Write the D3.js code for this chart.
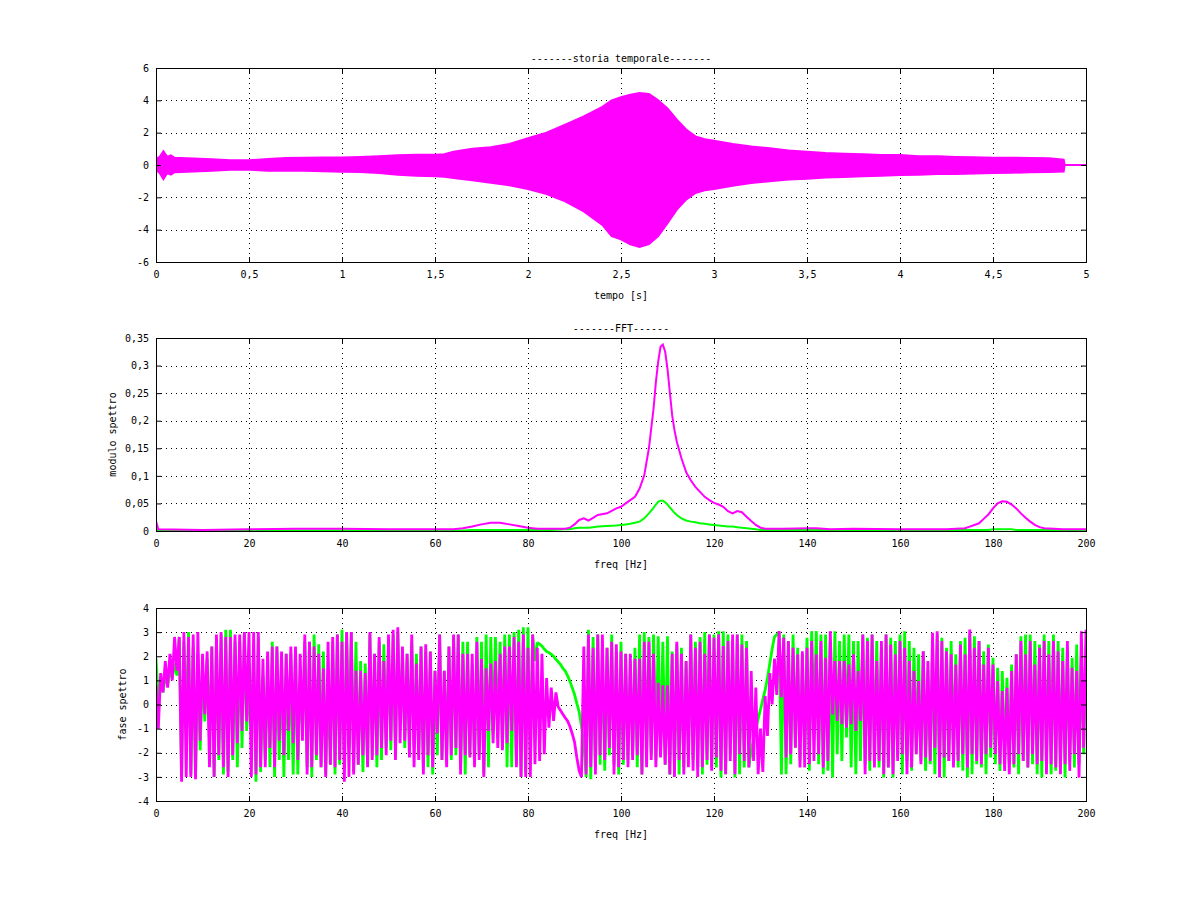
<!DOCTYPE html>
<html>
<head>
<meta charset="utf-8">
<script src="https://cdn.jsdelivr.net/npm/d3@7"></script>
<style>
body { margin: 0; background: #fff; }
svg { display: block; }
text { font-family: "DejaVu Sans Mono", "Liberation Mono", monospace; font-size: 10px; fill: #000; }
</style>
</head>
<body>
<svg></svg>
<script>
// storia temporale: envelope of the signal (upper / lower peaks)
const sigT = [0, 0.02, 0.04, 0.06, 0.08,
    0.1, 0.2, 0.3, 0.4, 0.5, 0.6, 0.7, 0.8, 0.9, 1.0, 1.1, 1.2, 1.3, 1.4, 1.5, 1.55,
    1.6, 1.7, 1.8, 1.9, 2.0, 2.1, 2.2, 2.3, 2.4,
    2.45, 2.5, 2.55, 2.6, 2.65, 2.7, 2.75, 2.8, 2.85, 2.9, 2.95, 3.0,
    3.1, 3.2, 3.3, 3.4, 3.5, 3.6, 3.7, 3.8, 3.9, 4.0, 4.1, 4.2, 4.3, 4.4, 4.5, 4.6, 4.7, 4.8,
    4.88, 4.885, 5.0];
const sigHi = [0.4, 0.5, 0.85, 0.5, 0.6,
    0.45, 0.4, 0.35, 0.3, 0.29, 0.37, 0.43, 0.45, 0.47, 0.47, 0.5, 0.54, 0.6, 0.64, 0.64, 0.66,
    0.82, 1.0, 1.1, 1.3, 1.65, 2.0, 2.5, 3.0, 3.6,
    4.0, 4.2, 4.35, 4.45, 4.4, 4.0, 3.5, 2.8, 2.2, 1.77, 1.6, 1.5,
    1.3, 1.15, 1.03, 0.9, 0.82, 0.74, 0.7, 0.66, 0.62, 0.62, 0.54, 0.54, 0.5, 0.48, 0.45, 0.45, 0.43, 0.41,
    0.33, 0, 0];
const sigLo = [-0.3, -0.5, -0.87, -0.5, -0.6,
    -0.45, -0.4, -0.35, -0.29, -0.29, -0.35, -0.35, -0.36, -0.38, -0.41, -0.43, -0.5, -0.6, -0.66, -0.7, -0.72,
    -0.8, -0.95, -1.1, -1.26, -1.48, -1.8, -2.25, -2.87, -3.7,
    -4.4, -4.6, -4.9, -5.07, -4.9, -4.4, -3.6, -2.76, -2.14, -1.73, -1.57, -1.48,
    -1.28, -1.11, -1.0, -0.9, -0.85, -0.78, -0.74, -0.7, -0.66, -0.62, -0.6, -0.56, -0.55, -0.52, -0.5, -0.48, -0.45, -0.43,
    -0.4, 0, 0];

// FFT modulo
const fftFreq = [
    0, 0.5, 10, 20, 30, 40, 50, 60, 64, 66,
    68, 70, 72, 74, 76, 78, 80, 82, 85, 88,
    89, 90, 91, 92, 93, 94, 95, 97, 99, 100,
    101, 102, 103, 104, 105, 106, 107, 107.5, 108, 108.5,
    109, 109.5, 110, 110.5, 111, 111.5, 112, 113, 114, 115,
    116, 117, 118, 119, 120, 121, 122, 123, 124, 125,
    126, 127, 128, 129, 130, 131, 135, 140, 142, 145,
    150, 160, 170, 172, 174, 175, 176, 177, 178, 179,
    180, 181, 182, 183, 184, 185, 186, 187, 188, 189,
    190, 191, 195, 200];
const fftMag = [
    0.018, 0.003, 0.002, 0.003, 0.004, 0.004, 0.003, 0.003, 0.003, 0.005,
    0.008, 0.012, 0.015, 0.015, 0.012, 0.009, 0.006, 0.004, 0.004, 0.004,
    0.006, 0.012, 0.020, 0.023, 0.019, 0.024, 0.029, 0.032, 0.041, 0.044,
    0.050, 0.056, 0.062, 0.077, 0.101, 0.150, 0.222, 0.270, 0.307, 0.334,
    0.338, 0.325, 0.294, 0.252, 0.210, 0.183, 0.162, 0.132, 0.107, 0.092,
    0.080, 0.071, 0.062, 0.056, 0.051, 0.048, 0.044, 0.036, 0.032, 0.036,
    0.034, 0.026, 0.018, 0.011, 0.006, 0.004, 0.004, 0.005, 0.005, 0.003,
    0.004, 0.003, 0.003, 0.004, 0.005, 0.008, 0.011, 0.014, 0.022, 0.030,
    0.041, 0.050, 0.054, 0.053, 0.048, 0.041, 0.032, 0.024, 0.017, 0.011,
    0.007, 0.005, 0.003, 0.003];
const fftGrn = [
    0.002, 0.001, 0.001, 0.001, 0.001, 0.001, 0.001, 0.001, 0.001, 0.001,
    0.002, 0.002, 0.002, 0.002, 0.002, 0.002, 0.002, 0.002, 0.002, 0.003,
    0.003, 0.005, 0.006, 0.006, 0.006, 0.007, 0.008, 0.009, 0.010, 0.011,
    0.012, 0.013, 0.015, 0.017, 0.023, 0.032, 0.042, 0.048, 0.053, 0.055,
    0.055, 0.052, 0.048, 0.043, 0.038, 0.033, 0.029, 0.023, 0.019, 0.017,
    0.016, 0.014, 0.013, 0.012, 0.011, 0.010, 0.009, 0.008, 0.008, 0.007,
    0.006, 0.005, 0.004, 0.003, 0.002, 0.002, 0.002, 0.002, 0.002, 0.002,
    0.002, 0.002, 0.002, 0.002, 0.002, 0.002, 0.002, 0.002, 0.002, 0.002,
    0.003, 0.003, 0.003, 0.003, 0.003, 0.002, 0.002, 0.002, 0.002, 0.002,
    0.002, 0.002, 0.002, 0.002];

// FFT fase: highest / lowest value in each 1 Hz bin (0..200 Hz)
const phMagHi = [
    0.8, 1.3, 1.8, 2.1, 2.8, 2.8, 3.0, 2.8, 2.9, 3.0, 2.1, 2.2, 2.4, 2.9, 3.0, 2.8, 2.8, 2.9, 2.9, 3.0,
    3.0, 3.0, 3.0, 1.9, 2.2, 2.4, 2.4, 2.2, 2.1, 2.4, 2.4, 2.1, 2.9, 2.6, 2.4, 2.1, 1.5, 2.6, 2.8, 2.9,
    2.6, 3.0, 3.0, 1.4, 1.4, 1.3, 3.0, 2.1, 2.8, 1.8, 2.9, 3.1, 3.2, 2.4, 2.1, 2.9, 1.7, 2.4, 2.5, 2.2,
    1.4, 2.9, 1.4, 2.4, 2.9, 2.9, 2.1, 2.1, 2.1, 2.6, 1.9, 1.5, 1.7, 1.8, 2.1, 2.4, 2.4, 2.8, 2.6, 2.9,
    2.35, 2.9, 2.35, 2.1, 1.1, 0.7, 0.5, -0.25, -0.55, -0.9, -1.55, -2.75, 2.4, 2.9, 2.35, 2.9, 2.9, 2.35, 2.6, 2.5,
    2.2, 2.1, 2.1, 1.9, 1.9, 2.6, 2.6, 2.1, 0.9, 0.8, 0.8, 2.1, 2.6, 2.1, 1.8, 2.9, 2.35, 2.6, 2.1, 2.9,
    2.77, 2.9, 2.42, 2.63, 2.9, 2.9, 2.49, 2.35, 1.39, 0.7, -1.0, 0.35, 1.3, 1.9, 3.04, 2.77, 2.63, 2.35, 2.08, 2.21,
    2.35, 2.63, 2.08, 2.63, 1.94, 3.04, 1.8, 1.8, 1.8, 1.66, 2.08, 1.39, 2.9, 2.63, 2.9, 1.8, 2.63, 2.9, 2.49, 2.08,
    2.63, 2.35, 1.8, 1.39, 0.97, 2.21, 1.8, 2.97, 3.04, 2.63, 2.21, 2.08, 1.66, 2.49, 2.08, 3.11, 2.35, 2.63, 1.66, 2.35,
    1.66, 0.97, 0.56, 0.69, 1.39, 2.08, 2.63, 2.08, 2.63, 1.66, 2.35, 2.63, 2.08, 2.63, 2.21, 1.8, 2.63, 1.52, 1.39, 3.04,
    3.1];
const phMagLo = [
    -1.0, 0.5, 0.7, 1.0, 1.4, -3.2, -3.0, -3.0, -3.1, -1.5, -0.4, -2.6, -3.0, -2.1, -2.6, -3.0, -2.1, -1.6, -1.1, -0.7,
    -3.0, -2.9, -2.6, -2.6, -1.8, -2.6, -1.5, -2.1, -1.1, -1.6, -2.3, -1.5, -2.9, -2.6, -2.1, -2.6, -3.0, -2.5, -2.6, -2.3,
    -3.2, -3.0, -2.9, -2.5, -2.1, -2.6, -2.3, -2.1, -1.8, -2.1, -1.5, -2.3, -1.6, -1.5, -2.2, -2.6, -2.3, -2.9, -2.1, -2.6,
    -1.2, -2.3, -2.6, -2.1, -1.8, -2.9, -2.1, -2.2, -2.6, -2.3, -3.0, -1.1, -1.6, -1.8, -1.9, -1.6, -1.1, -2.6, -3.0, -3.0,
    -3.0, -2.48, -2.34, -2.06, -0.96, -0.68, -0.1, -0.4, -0.68, -1.2, -2.2, -3.0, -2.9, -2.6, -2.9, -2.1, -2.3, -1.8, -2.9, -2.6,
    -2.3, -2.6, -2.3, -2.1, -2.9, -2.6, -2.3, -2.6, -2.2, -2.5, -2.9, -3.0, -2.3, -2.9, -2.6, -2.75, -3.0, -2.6, -2.3, -2.75,
    -2.2, -2.75, -2.89, -2.34, -2.89, -2.06, -2.34, -2.61, -2.34, -2.89, -2.8, -1.3, 0.0, 0.4, 0.3, -2.2, -2.06, -1.79, -2.61, -2.61,
    -2.48, -2.34, -2.06, -2.61, -2.34, -0.41, -0.68, -0.82, -0.96, -0.82, -1.1, -0.68, -2.89, -2.34, -2.61, -2.34, -2.89, -2.61, -2.89, -2.34,
    -2.06, -2.89, -2.61, -2.06, -2.48, -2.2, -2.34, -1.79, -3.03, -2.2, -2.34, -2.61, -2.34, -2.06, -2.61, -2.06, -2.34, -2.48, -2.06, -1.79,
    -2.06, -2.48, -2.75, -2.89, -2.48, -2.06, -2.34, -2.61, -2.06, -2.48, -2.34, -2.89, -2.48, -2.61, -2.89, -2.48, -2.75, -2.06, -3.03, -1.79,
    -1.0];
const phGrnHi = [
    1.9, 0.9, 1.2, 1.4, 1.7, 2.8, 2.6, 3.0, 2.4, 2.1, 1.5, 1.9, 2.4, 2.6, 2.9, 3.1, 3.1, 2.6, 2.6, 3.0,
    0.7, 2.1, 2.8, 1.2, 1.9, 2.6, 2.4, 1.8, 2.1, 2.1, 2.2, 1.2, 2.6, 2.6, 2.9, 2.5, 2.2, 0.7, 2.6, 2.9,
    3.1, 3.0, 3.0, 2.6, 1.8, 1.7, 2.9, 2.1, 2.6, 2.5, 2.4, 2.9, 3.0, 2.2, 2.1, 2.6, 2.1, 2.4, 2.2, 2.2,
    1.4, 2.9, 1.4, 2.4, 2.8, 2.9, 2.6, 2.6, 1.7, 2.8, 2.6, 2.9, 2.8, 2.8, 2.6, 2.9, 2.9, 3.0, 3.1, 3.2,
    3.2, 2.9, 2.56, 2.42, 2.2, 2.08, 1.87, 1.66, 1.39, 0.97, 0.42, -0.3, -1.6, 3.1, 2.8, 2.9, 2.1, 2.35, 2.9, 2.2,
    2.6, 2.1, 1.8, 2.35, 2.9, 3.0, 2.8, 2.9, 2.83, 2.6, 2.83, 2.2, 2.5, 2.35, 1.8, 2.9, 2.6, 2.8, 3.0, 2.9,
    2.9, 3.04, 3.04, 2.9, 2.63, 2.9, 2.9, 2.63, -1.9, -1.0, -0.2, 0.6, 1.7, 2.8, 3.0, 2.9, 2.63, 2.9, 2.35, 2.08,
    2.77, 3.04, 3.04, 2.9, 2.9, 2.63, 3.04, 2.63, 2.9, 2.9, 2.63, 2.63, 2.9, 2.77, 2.9, 2.63, 2.35, 2.9, 2.77, 2.63,
    2.9, 3.04, 2.63, 2.35, 2.08, 2.21, 1.39, 2.49, 2.9, 2.77, 2.35, 2.63, 2.08, 2.63, 2.77, 2.9, 2.83, 2.63, 2.21, 2.49,
    1.94, 1.52, 1.39, 1.11, 1.66, 2.08, 2.83, 2.9, 2.9, 2.63, 2.49, 2.9, 2.63, 2.9, 2.63, 2.35, 2.21, 1.94, 2.49, 2.08,
    2.49];
const phGrnLo = [
    0.3, 0.5, 0.8, 1.1, 1.2, -3.0, -0.7, -2.9, -3.0, -1.9, -0.7, -1.5, -3.0, -2.3, -2.9, -2.8, -2.3, -2.6, -1.8, -1.1,
    -0.7, -3.2, -2.8, -2.3, -2.6, -3.0, -2.3, -3.0, -2.3, -2.9, -2.9, -1.1, -2.6, -3.0, -2.3, -2.6, -2.9, -2.5, -2.9, -2.5,
    -2.6, -1.8, -2.8, -2.5, -2.8, -2.5, -2.1, -2.6, -2.3, -1.8, -1.9, -1.9, -0.7, -1.8, -1.5, -1.8, -2.1, -2.6, -2.6, -2.9,
    -2.1, -2.3, -2.1, -2.3, -2.1, -2.6, -2.9, -2.1, -2.5, -2.1, -2.9, -2.6, -1.2, -1.4, -1.8, -2.6, -2.6, -2.5, -3.0, -2.8,
    -2.5, 1.8, 2.5, 2.3, 2.15, 2.0, 1.77, 1.5, 1.2, 0.7, 0.05, -0.9, -3.0, -3.1, -2.6, -2.5, -2.75, -2.1, -2.5, -2.9,
    -2.5, -2.3, -2.1, -2.6, -2.9, -2.2, -2.1, -2.3, -2.1, -2.5, -2.9, -2.6, -2.9, -2.6, -2.1, -2.3, -2.6, -2.9, -2.5, -2.6,
    -2.61, -3.03, -2.89, -2.06, -3.03, -2.89, -2.61, -2.6, -1.45, -0.6, 0.2, 1.1, 2.3, 2.9, -2.9, -2.89, -2.48, -1.79, -2.34, -2.06,
    -2.75, -0.68, -2.48, -2.89, -2.75, -3.03, -2.06, -2.34, -1.37, -2.61, -2.89, -2.34, -2.48, -2.75, -2.06, -2.61, -3.03, -2.61, -3.03, -2.2,
    -2.89, -2.34, -2.75, -2.06, -2.34, -2.75, -2.48, -2.89, -2.48, -3.03, -2.34, -2.06, -2.61, -2.75, -3.03, -2.89, -2.48, -2.61, -2.89, -2.2,
    -2.48, -2.75, -2.34, -2.48, -2.61, -2.89, -2.34, -2.61, -2.48, -2.89, -3.03, -2.34, -2.89, -2.75, -2.61, -3.03, -2.34, -2.61, -2.48, -2.06,
    -0.68];

const MAGENTA = '#ff00ff';
const GREEN = '#00ff00';

let width = 1200;
let height = 900;
let left = 156;
let right = 1086;
let svg = d3.select('svg').attr('width', width).attr('height', height);

let fmt = d => String(+d.toFixed(2)).replace('.', ',');

function panel(id, top, bottom, xDom, xStep, yDom, yStep, title, xlabel, ylabel, ylabelX) {
    let x = d3.scaleLinear().domain(xDom).range([left, right]);
    let y = d3.scaleLinear().domain(yDom).range([bottom, top]);
    let xt = d3.range(xDom[0], xDom[1] + xStep / 2, xStep);
    let yt = d3.range(yDom[0], yDom[1] + yStep / 2, yStep);
    let g = svg.append('g');

    // dotted grid
    let grid = g.append('g')
        .attr('stroke', '#000')
        .attr('stroke-width', 1)
        .attr('stroke-dasharray', '1,4');
    grid.selectAll('.gx').data(xt.slice(1, -1)).join('line')
        .attr('class', 'gx')
        .attr('x1', d => Math.round(x(d)) + 0.5).attr('x2', d => Math.round(x(d)) + 0.5)
        .attr('y1', top).attr('y2', bottom);
    grid.selectAll('.gy').data(yt.slice(1, -1)).join('line')
        .attr('class', 'gy')
        .attr('y1', d => Math.round(y(d)) + 0.5).attr('y2', d => Math.round(y(d)) + 0.5)
        .attr('x1', left).attr('x2', right);

    g.append('clipPath').attr('id', id)
        .append('rect')
        .attr('x', left).attr('y', top)
        .attr('width', right - left).attr('height', bottom - top);

    let plot = g.append('g').attr('clip-path', `url(#${id})`);

    // axes, ticks pointing inward, mirrored on top and right
    let ax = [
        [d3.axisBottom(x).tickFormat(fmt).tickPadding(9), `translate(0,${bottom})`],
        [d3.axisTop(x).tickFormat(''), `translate(0,${top})`],
        [d3.axisLeft(y).tickFormat(fmt).tickPadding(7), `translate(${left},0)`],
        [d3.axisRight(y).tickFormat(''), `translate(${right},0)`]
    ];
    ax.forEach(([a, t], i) => {
        a.tickValues(i < 2 ? xt : yt).tickSizeInner(-5).tickSizeOuter(0);
        let layer = g.append('g').attr('transform', t).call(a);
        layer.select('.domain').remove();
        layer.selectAll('text')
            .style('font-family', '"DejaVu Sans Mono", monospace')
            .style('font-size', '10px');
    });

    g.append('rect')
        .attr('x', left + 0.5).attr('y', top + 0.5)
        .attr('width', right - left).attr('height', bottom - top)
        .attr('fill', 'none').attr('stroke', '#000');

    g.append('text')
        .attr('x', (left + right) / 2).attr('y', top - 6)
        .attr('text-anchor', 'middle').text(title);
    g.append('text')
        .attr('x', (left + right) / 2).attr('y', bottom + 37)
        .attr('text-anchor', 'middle').text(xlabel);
    g.append('text')
        .attr('transform', `translate(${ylabelX},${(top + bottom) / 2}) rotate(-90)`)
        .attr('text-anchor', 'middle').text(ylabel);

    return { x, y, plot };
}

/**
 * storia temporale
 */
let p1 = panel('c1', 68, 262, [0, 5], 0.5, [-6, 6], 2,
    '-------storia temporale-------', 'tempo [s]', '', 0);
let sig = sigT.map((t, i) => ({ t, hi: sigHi[i], lo: sigLo[i] }));
p1.plot.append('path')
    .datum(sig)
    .attr('fill', MAGENTA)
    .attr('stroke', MAGENTA)
    .attr('stroke-width', 2)
    .attr('d', d3.area()
        .x(d => p1.x(d.t))
        .y0(d => p1.y(d.lo))
        .y1(d => p1.y(d.hi)));

/**
 * FFT modulo
 */
let p2 = panel('c2', 338, 531, [0, 200], 20, [0, 0.35], 0.05,
    '-------FFT------', 'freq [Hz]', 'modulo spettro', 116);
let fftLine = vals => d3.line()
    .x((d, i) => p2.x(fftFreq[i]))
    .y(d => p2.y(d))(vals);
p2.plot.append('path')
    .attr('d', fftLine(fftGrn))
    .attr('fill', 'none').attr('stroke', GREEN).attr('stroke-width', 2);
p2.plot.append('path')
    .attr('d', fftLine(fftMag))
    .attr('fill', 'none').attr('stroke', MAGENTA).attr('stroke-width', 2);

/**
 * FFT fase
 */
let p3 = panel('c3', 608, 801, [0, 200], 20, [-4, 4], 1,
    '', 'freq [Hz]', 'fase spettro', 126);
// each bin: its top value, then its bottom value half a bin later
let zigzag = (hi, lo) => {
    let pts = [];
    hi.forEach((h, i) => {
        pts.push([i, h]);
        pts.push([i + 0.5, lo[i]]);
    });
    return d3.line().x(d => p3.x(d[0])).y(d => p3.y(d[1]))(pts);
};
p3.plot.append('path')
    .attr('d', zigzag(phGrnHi, phGrnLo))
    .attr('fill', 'none').attr('stroke', GREEN).attr('stroke-width', 2.8)
    .attr('stroke-linejoin', 'bevel');
p3.plot.append('path')
    .attr('d', zigzag(phMagHi, phMagLo))
    .attr('fill', 'none').attr('stroke', MAGENTA).attr('stroke-width', 2.8)
    .attr('stroke-linejoin', 'bevel');
</script>
</body>
</html>
